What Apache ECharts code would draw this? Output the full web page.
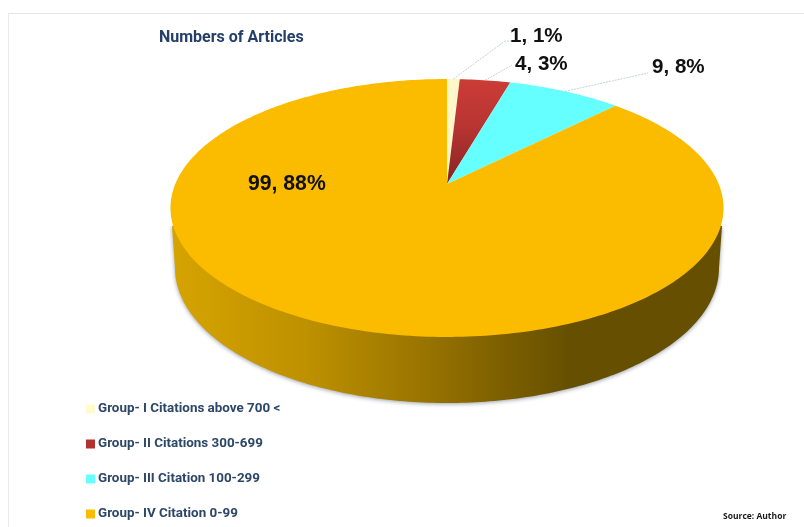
<!DOCTYPE html>
<html>
<head>
<meta charset="utf-8">
<style>html,body{margin:0;padding:0;background:#fff}#chart{width:804px;height:527px}</style>
<script src="https://cdn.jsdelivr.net/npm/echarts@6/dist/echarts.min.js"></script>
</head>
<body>
<div id="chart"></div>
<script>
// Article counts per citation group
const groups = ['Group- I Citations above 700 <', 'Group- II Citations 300-699', 'Group- III Citation 100-299', 'Group- IV Citation 0-99'];
const articleCounts = [1, 4, 9, 99];
const percentLabels = [1, 3, 8, 88];
const sliceColors = ['#FFF6C9', '#C53A35', '#66FFFF', '#FBBC00'];
const titleText = 'Numbers of Articles';
const sourceText = 'Source: Author';

// Tilted disc: a circle seen in perspective, with its hub above the middle of the ellipse
const disc = { x: 447, y: 184, radius: 271.7, tilt: 124.5, k: 0.186 };
// Lower rim ellipse of the disc wall
const rim = { x: 447, y: 268, rx: 272, ry: 135, joinY: 226 };
// Text anchors and leader elbows for the labels, per group
const labelLayout = [
  { x: 510, y: 36, elbow: [[505, 41], [511, 41]], size: 20.6 },
  { x: 515, y: 64, elbow: [[512, 65]], size: 20.6 },
  { x: 652, y: 67, elbow: [[648, 73]], size: 20.6 },
  { x: 248, y: 184, elbow: null, size: 21.2 }
];

const total = articleCounts.reduce((a, b) => a + b, 0);

function project(deg) {
  const a = deg * Math.PI / 180;
  const u = Math.sin(a), v = Math.cos(a), w = 1 + disc.k * v;
  return [disc.x + disc.radius * u / w, disc.y - disc.tilt * v / w];
}

function sliceStart(i) {
  return articleCounts.slice(0, i).reduce((a, b) => a + b, 0) / total * 360;
}

function slicePath(i) {
  const from = sliceStart(i), to = from + articleCounts[i] / total * 360;
  const pts = [[disc.x, disc.y]];
  const steps = Math.max(4, Math.ceil(to - from));
  for (let s = 0; s <= steps; s++) pts.push(project(from + (to - from) * s / steps));
  return pts;
}

function wallPath() {
  const pts = [[rim.x - rim.rx - 3, rim.joinY]];
  for (let d = 180; d <= 360; d += 1) {
    const a = d * Math.PI / 180;
    pts.push([rim.x + rim.rx * Math.cos(a), rim.y - rim.ry * Math.sin(a)]);
  }
  pts.push([rim.x + rim.rx + 3, rim.joinY]);
  return pts;
}

function sliceSeries(i) {
  return {
    type: 'custom',
    name: groups[i],
    coordinateSystem: 'none',
    z: 3,
    silent: true,
    data: [articleCounts[i]],
    renderItem: function () {
      const mid = sliceStart(i) + articleCounts[i] / total * 180;
      const lay = labelLayout[i];
      const fill = i === 1
        ? { type: 'linear', x: 0, y: 0, x2: 0, y2: 1, colorStops: [
            { offset: 0, color: '#CB3C36' }, { offset: 0.45, color: '#B83532' }, { offset: 1, color: '#872321' }] }
        : sliceColors[i];
      const children = [{
        type: 'polygon',
        shape: { points: slicePath(i) },
        style: { fill: fill, stroke: null }
      }];
      if (lay.elbow) {
        children.push({
          type: 'polyline',
          z2: 5,
          shape: { points: [project(mid)].concat(lay.elbow) },
          style: { stroke: '#B9C4CE', lineWidth: 0.8, lineDash: [2, 1], fill: null }
        });
      }
      children.push({
        type: 'text',
        z2: 6,
        x: lay.x,
        y: lay.y,
        style: {
          text: articleCounts[i] + ', ' + percentLabels[i] + '%',
          font: 'bold ' + lay.size + 'px "Liberation Sans", Arial, sans-serif',
          fill: '#111111',
          textAlign: 'left',
          textVerticalAlign: 'middle'
        }
      });
      return { type: 'group', children: children };
    }
  };
}

const wallSeries = {
  type: 'custom',
  coordinateSystem: 'none',
  z: 1,
  silent: true,
  data: [articleCounts[3]],
  renderItem: function () {
    return {
      type: 'polygon',
      shape: { points: wallPath() },
      style: {
        fill: { type: 'linear', x: 0, y: 0, x2: 1, y2: 0, colorStops: [
          { offset: 0, color: '#D6A400' },
          { offset: 0.25, color: '#BD9000' },
          { offset: 0.45, color: '#9A7500' },
          { offset: 0.6, color: '#7D5F00' },
          { offset: 0.72, color: '#665000' },
          { offset: 1, color: '#665000' }] },
        shadowColor: 'rgba(70,80,100,0.55)',
        shadowBlur: 4,
        shadowOffsetY: 1
      }
    };
  }
};

const chart = echarts.init(document.getElementById('chart'), null, { renderer: 'canvas' });
chart.setOption({
  animation: false,
  backgroundColor: '#ffffff',
  title: {
    text: titleText,
    left: 154,
    top: 25,
    textStyle: { color: '#24406A', fontFamily: 'Roboto', fontWeight: 'bold', fontSize: 16 }
  },
  legend: {
    orient: 'vertical',
    left: 86,
    top: 402,
    height: 125,
    padding: 0,
    itemWidth: 9,
    itemHeight: 9,
    itemGap: 21,
    icon: 'rect',
    data: groups.map((g, i) => ({ name: g, itemStyle: { color: i === 1 ? '#B33230' : (i === 0 ? '#FFFBCC' : sliceColors[i]) } })),
    textStyle: { color: '#2C4767', fontFamily: 'Roboto', fontWeight: 'bold', fontSize: 13.4, padding: [0, 0, 0, -2], height: 14, lineHeight: 14 }
  },
  graphic: [
    { type: 'line', shape: { x1: 8.5, y1: 13.5, x2: 804, y2: 13.5 }, style: { stroke: '#E4E4E4', lineWidth: 1 } },
    { type: 'line', shape: { x1: 8.5, y1: 13.5, x2: 8.5, y2: 527 }, style: { stroke: '#E8E8E8', lineWidth: 1 } },
    { type: 'text', x: 723, y: 512, style: { text: sourceText, font: 'bold 8.5px "Open Sans", sans-serif', fill: '#1A1A1A' } }
  ],
  series: [wallSeries].concat(groups.map((g, i) => sliceSeries(i)))
});
</script>
</body>
</html>
